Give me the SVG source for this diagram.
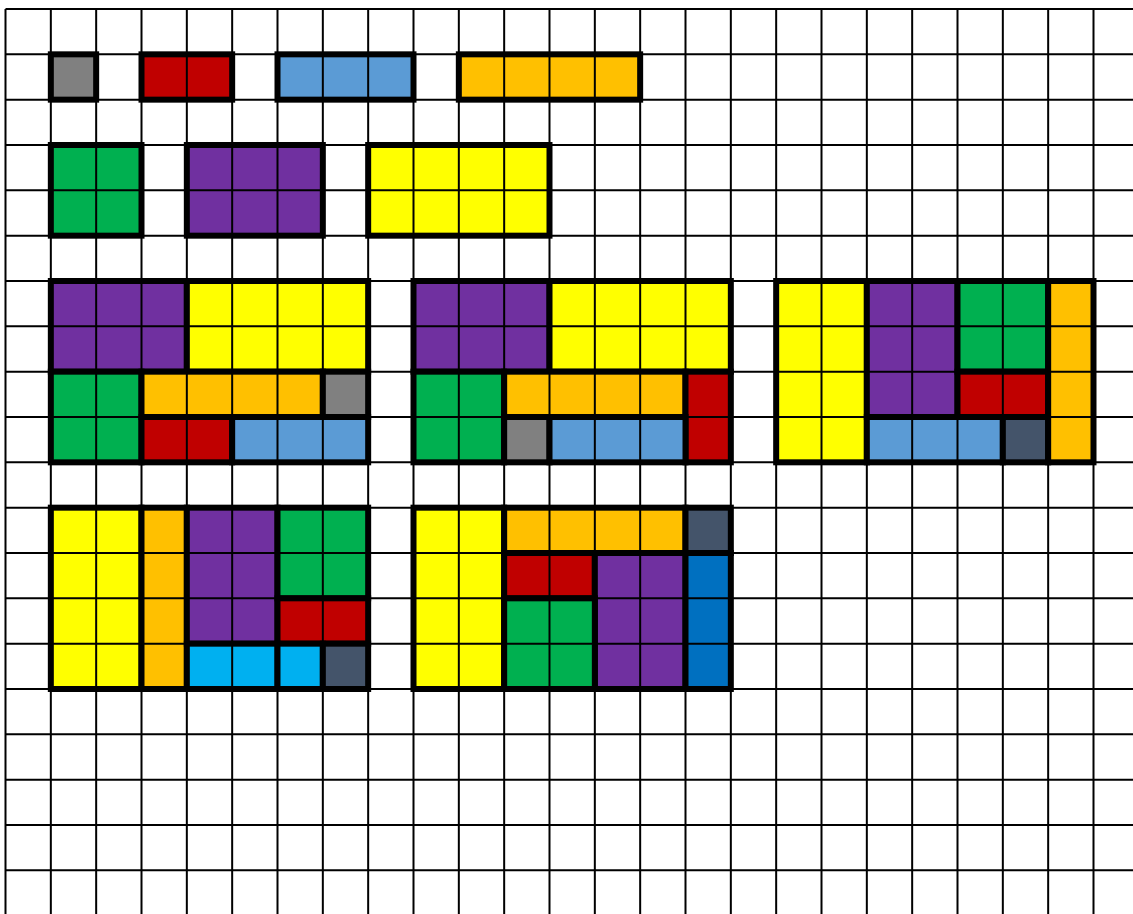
<svg xmlns="http://www.w3.org/2000/svg" width="1133" height="914" viewBox="0 0 1133 914">
<style>
.p{stroke:#000;stroke-width:6;stroke-linejoin:miter}
.gy{fill:#808080}.rd{fill:#C00000}.bl{fill:#5B9BD5}.or{fill:#FFC000}.gr{fill:#00B050}.pu{fill:#7030A0}.ye{fill:#FFFF00}.sl{fill:#44546A}.cy{fill:#00B0F0}.db{fill:#0070C0}
.grid{fill:none;stroke:#000;stroke-width:2}
</style>
<rect x="0" y="0" width="1133" height="914" fill="#fff"/>
<g id="row1">
<rect class="p gy" x="50.83" y="54.33" width="45.33" height="45.33"/>
<rect class="p rd" x="141.5" y="54.33" width="90.67" height="45.33"/>
<rect class="p bl" x="277.5" y="54.33" width="136" height="45.33"/>
<rect class="p or" x="458.83" y="54.33" width="181.33" height="45.33"/>
</g>
<g id="row2">
<rect class="p gr" x="50.83" y="145" width="90.67" height="90.67"/>
<rect class="p pu" x="186.83" y="145" width="136" height="90.67"/>
<rect class="p ye" x="368.17" y="145" width="181.33" height="90.67"/>
</g>
<g id="boxA">
<rect class="p pu" x="50.83" y="281" width="136" height="90.67"/>
<rect class="p ye" x="186.83" y="281" width="181.33" height="90.67"/>
<rect class="p gr" x="50.83" y="371.67" width="90.67" height="90.67"/>
<rect class="p or" x="141.5" y="371.67" width="181.33" height="45.33"/>
<rect class="p gy" x="322.83" y="371.67" width="45.33" height="45.33"/>
<rect class="p rd" x="141.5" y="417" width="90.67" height="45.33"/>
<rect class="p bl" x="232.17" y="417" width="136" height="45.33"/>
</g>
<g id="boxB">
<rect class="p pu" x="413.5" y="281" width="136" height="90.67"/>
<rect class="p ye" x="549.5" y="281" width="181.33" height="90.67"/>
<rect class="p gr" x="413.5" y="371.67" width="90.67" height="90.67"/>
<rect class="p or" x="504.17" y="371.67" width="181.33" height="45.33"/>
<rect class="p rd" x="685.5" y="371.67" width="45.33" height="90.67"/>
<rect class="p gy" x="504.17" y="417" width="45.33" height="45.33"/>
<rect class="p bl" x="549.5" y="417" width="136" height="45.33"/>
</g>
<g id="boxC">
<rect class="p ye" x="776.17" y="281" width="90.67" height="181.33"/>
<rect class="p pu" x="866.83" y="281" width="90.67" height="136"/>
<rect class="p gr" x="957.5" y="281" width="90.67" height="90.67"/>
<rect class="p rd" x="957.5" y="371.67" width="90.67" height="45.33"/>
<rect class="p bl" x="866.83" y="417" width="136" height="45.33"/>
<rect class="p sl" x="1002.83" y="417" width="45.33" height="45.33"/>
<rect class="p or" x="1048.17" y="281" width="45.33" height="181.33"/>
</g>
<g id="boxD">
<rect class="p ye" x="50.83" y="507.67" width="90.67" height="181.33"/>
<rect class="p or" x="141.5" y="507.67" width="45.33" height="181.33"/>
<rect class="p pu" x="186.83" y="507.67" width="90.67" height="136"/>
<rect class="p gr" x="277.5" y="507.67" width="90.67" height="90.67"/>
<rect class="p rd" x="277.5" y="598.33" width="90.67" height="45.33"/>
<rect class="p cy" x="186.83" y="643.67" width="90.67" height="45.33"/>
<rect class="p cy" x="277.5" y="643.67" width="45.33" height="45.33"/>
<rect class="p sl" x="322.83" y="643.67" width="45.33" height="45.33"/>
</g>
<g id="boxE">
<rect class="p ye" x="413.5" y="507.67" width="90.67" height="181.33"/>
<rect class="p or" x="504.17" y="507.67" width="181.33" height="45.33"/>
<rect class="p sl" x="685.5" y="507.67" width="45.33" height="45.33"/>
<rect class="p rd" x="504.17" y="553" width="90.67" height="45.33"/>
<rect class="p pu" x="594.83" y="553" width="90.67" height="136"/>
<rect class="p gr" x="504.17" y="598.33" width="90.67" height="90.67"/>
<rect class="p db" x="685.5" y="553" width="45.33" height="136"/>
</g>
<g id="grid">
<path class="grid" d="M5.5 9V914M50.83 9V914M96.17 9V914M141.5 9V914M186.83 9V914M232.17 9V914M277.5 9V914M322.83 9V914M368.17 9V914M413.5 9V914M458.83 9V914M504.17 9V914M549.5 9V914M594.83 9V914M640.17 9V914M685.5 9V914M730.83 9V914M776.17 9V914M821.5 9V914M866.83 9V914M912.17 9V914M957.5 9V914M1002.83 9V914M1048.17 9V914M1093.5 9V914"/>
<path class="grid" d="M5.5 9H1133M5.5 54.33H1133M5.5 99.67H1133M5.5 145H1133M5.5 190.33H1133M5.5 235.67H1133M5.5 281H1133M5.5 326.33H1133M5.5 371.67H1133M5.5 417H1133M5.5 462.33H1133M5.5 507.67H1133M5.5 553H1133M5.5 598.33H1133M5.5 643.67H1133M5.5 689H1133M5.5 734.33H1133M5.5 779.67H1133M5.5 825H1133M5.5 870.33H1133"/>
</g>
</svg>
